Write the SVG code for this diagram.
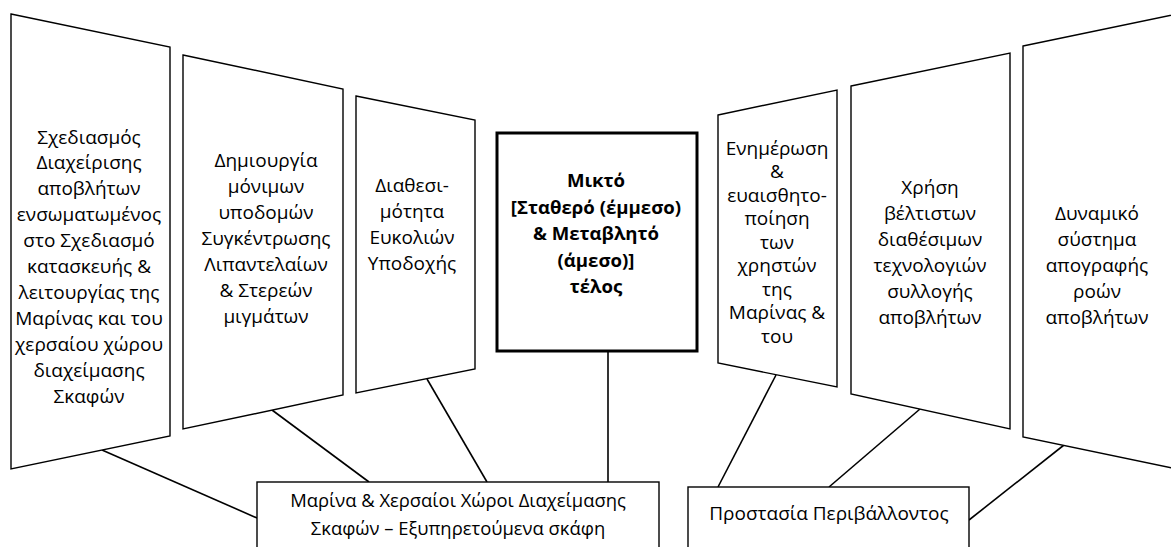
<svg xmlns="http://www.w3.org/2000/svg" width="1171" height="547" viewBox="0 0 1171 547">
<style>
.shape{fill:#fff;stroke:#000;stroke-width:1.4;stroke-linejoin:miter}
.thick{fill:#fff;stroke:#000;stroke-width:3}
.conn{stroke:#000;stroke-width:1.6;fill:none}
text{font-family:"Open Sans","Noto Sans","DejaVu Sans",sans-serif;font-size:19px;fill:#000;text-anchor:middle}
.b{font-weight:bold;font-size:18.6px}
.s{font-size:18.4px}
</style>
<rect width="1171" height="547" fill="#fff"/>
<g id="connectors">
<line class="conn" x1="102" y1="450" x2="257" y2="518"/>
<line class="conn" x1="272" y1="410" x2="369" y2="482"/>
<line class="conn" x1="427" y1="379" x2="487" y2="482"/>
<line class="conn" x1="608" y1="351" x2="608" y2="482"/>
<line class="conn" x1="776" y1="375" x2="718" y2="487"/>
<line class="conn" x1="920" y1="409" x2="829" y2="487"/>
<line class="conn" x1="1064" y1="445" x2="969" y2="520"/>
</g>
<g id="node1">
<polygon class="shape" points="11,14 170,47 170,436 11,469"/>
<text x="89" y="143.5">Σχεδιασμός</text>
<text x="89" y="169.4">Διαχείρισης</text>
<text x="89" y="195.3">αποβλήτων</text>
<text x="89" y="221.2">ενσωματωμένος</text>
<text x="89" y="247.1">στο Σχεδιασμό</text>
<text x="89" y="273">κατασκευής &amp;</text>
<text x="89" y="298.9">λειτουργίας της</text>
<text x="89" y="324.8">Μαρίνας και του</text>
<text x="89" y="350.7">χερσαίου χώρου</text>
<text x="89" y="376.6">διαχείμασης</text>
<text x="89" y="402.5">Σκαφών</text>
</g>
<g id="node2">
<polygon class="shape" points="183,55 343,89 343,395 183,429"/>
<text x="266" y="167">Δημιουργία</text>
<text x="266" y="193">μόνιμων</text>
<text x="266" y="219">υποδομών</text>
<text x="266" y="245">Συγκέντρωσης</text>
<text x="266" y="271">Λιπαντελαίων</text>
<text x="266" y="297">&amp; Στερεών</text>
<text x="266" y="323">μιγμάτων</text>
</g>
<g id="node3">
<polygon class="shape" points="356,96 475,120 475,369 356,393"/>
<text x="412" y="191.5">Διαθεσι-</text>
<text x="412" y="217.5">μότητα</text>
<text x="412" y="243.5">Ευκολιών</text>
<text x="412" y="269.5">Υποδοχής</text>
</g>
<g id="node4">
<rect class="thick" x="497" y="133" width="200" height="218"/>
<text class="b" x="596" y="187">Μικτό</text>
<text class="b" x="596" y="213.5">[Σταθερό (έμμεσο)</text>
<text class="b" x="596" y="240">&amp; Μεταβλητό</text>
<text class="b" x="596" y="266.5">(άμεσο)]</text>
<text class="b" x="596" y="293">τέλος</text>
</g>
<g id="node5">
<polygon class="shape" points="718,115 837,90 837,387 718,363"/>
<text x="777" y="154.8">Ενημέρωση</text>
<text x="777" y="178.3">&amp;</text>
<text x="777" y="201.8">ευαισθητο-</text>
<text x="777" y="225.3">ποίηση</text>
<text x="777" y="248.8">των</text>
<text x="777" y="272.3">χρηστών</text>
<text x="777" y="295.8">της</text>
<text x="777" y="319.3">Μαρίνας &amp;</text>
<text x="777" y="342.8">του</text>
</g>
<g id="node6">
<polygon class="shape" points="851,86 1010,53 1010,429 851,394"/>
<text x="930" y="193.5">Χρήση</text>
<text x="930" y="219.5">βέλτιστων</text>
<text x="930" y="245.5">διαθέσιμων</text>
<text x="930" y="271.5">τεχνολογιών</text>
<text x="930" y="297.5">συλλογής</text>
<text x="930" y="323.5">αποβλήτων</text>
</g>
<g id="node7">
<polygon class="shape" points="1023,46 1182,13 1182,470 1023,437"/>
<text x="1097" y="219.5">Δυναμικό</text>
<text x="1097" y="245.5">σύστημα</text>
<text x="1097" y="271.5">απογραφής</text>
<text x="1097" y="297.5">ροών</text>
<text x="1097" y="323.5">αποβλήτων</text>
</g>
<g id="node8">
<rect class="shape" x="257" y="482" width="402" height="80"/>
<text class="s" x="458" y="506.5">Μαρίνα &amp; Χερσαίοι Χώροι Διαχείμασης</text>
<text class="s" x="458" y="534.5">Σκαφών – Εξυπηρετούμενα σκάφη</text>
</g>
<g id="node9">
<rect class="shape" x="688" y="487" width="281" height="80"/>
<text x="829" y="519.5">Προστασία Περιβάλλοντος</text>
</g>
</svg>
